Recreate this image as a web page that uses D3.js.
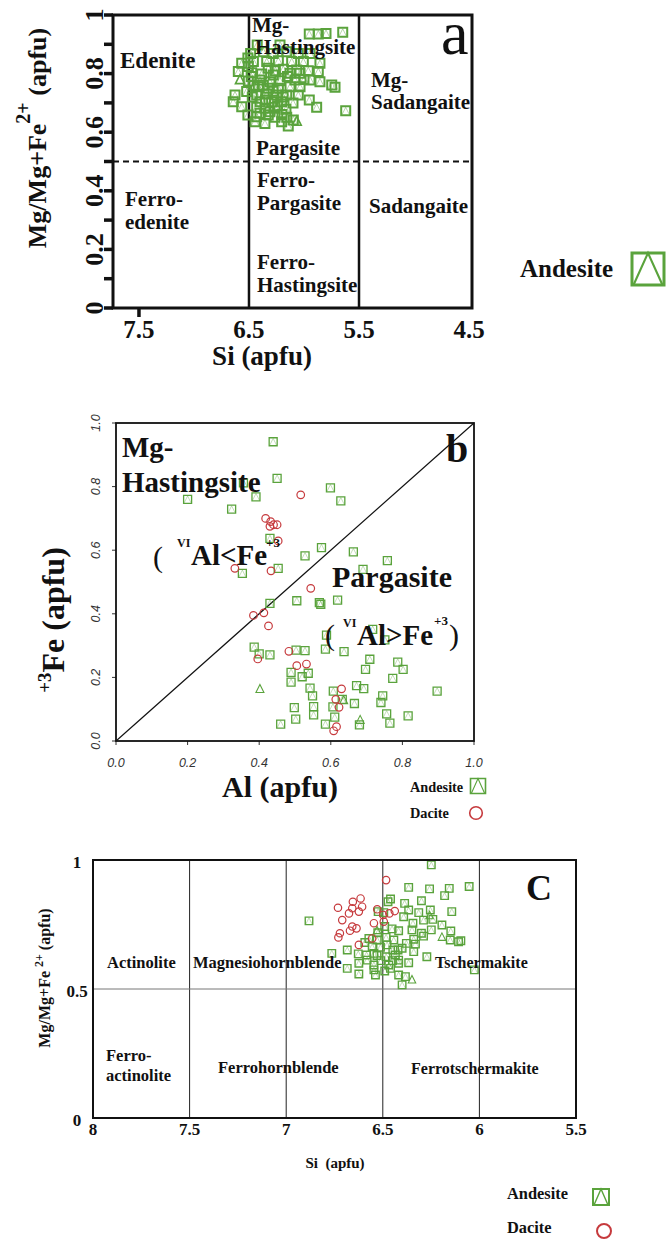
<!DOCTYPE html>
<html><head><meta charset="utf-8">
<script src="https://cdn.jsdelivr.net/npm/d3@7"></script>
<style>
body{margin:0;background:#fff}
svg{display:block}
text{font-family:"Liberation Serif","Times New Roman",serif;fill:#111}
</style>
</head><body>
<svg id="chart" width="670" height="1239"></svg>
<script>
// ---------------- DATA ----------------
// Panel a: Si (apfu) vs Mg/(Mg+Fe2+)
const aTicksX = [7.5, 6.5, 5.5, 4.5];
const aTicksY = [0, 0.2, 0.4, 0.6, 0.8, 1];
const aMinorY = [0.1, 0.3, 0.5, 0.7, 0.9];
const aDividersSi = [6.5, 5.5];
const aDashedMg = 0.5;
const aAndesiteSq = [
 [6.425,0.898],[6.218,0.898],[5.952,0.935],[5.87,0.935],[5.80,0.937],[5.648,0.941],
 [6.485,0.869],[6.37,0.875],[6.28,0.869],[6.157,0.875],[6.052,0.869],[5.945,0.869],
 [6.566,0.835],[6.46,0.841],[6.339,0.841],[6.233,0.844],[6.112,0.841],[6.006,0.841],[5.855,0.835],
 [6.506,0.824],[6.325,0.818],[6.188,0.815],[6.066,0.812],[5.961,0.81],
 [6.597,0.807],[6.475,0.803],[6.385,0.799],[6.279,0.795],[6.127,0.801],[6.036,0.801],[5.87,0.807],
 [6.506,0.775],[6.40,0.778],[6.309,0.772],[6.218,0.776],[6.082,0.778],[5.945,0.778],[5.855,0.772],[5.748,0.761],[5.718,0.753],
 [6.415,0.755],[6.325,0.75],[6.233,0.75],[6.127,0.755],[6.036,0.755],
 [6.627,0.727],[6.521,0.739],[6.43,0.727],[6.339,0.73],[6.248,0.727],[6.157,0.727],[6.052,0.727],
 [6.643,0.704],[6.40,0.704],[6.294,0.704],[6.203,0.704],[5.952,0.71],
 [6.43,0.685],[6.355,0.682],[6.264,0.685],[6.164,0.678],[5.885,0.685],[6.566,0.687],
 [6.43,0.653],[6.325,0.659],[6.264,0.651],[6.157,0.651],[6.097,0.642],[5.621,0.673],
 [6.445,0.636],[6.355,0.63],[6.143,0.621],[6.203,0.636],
 [6.51,0.853],[6.51,0.659],
 [6.37,0.76],[6.28,0.74],[6.19,0.72],[6.35,0.71],[6.24,0.69],[6.47,0.72],[6.31,0.67],[6.2,0.66],
 [6.46,0.76],[6.1,0.70],[6.0,0.78],[6.4,0.665],[6.48,0.79],[6.26,0.81],[6.15,0.79]
];
const aAndesiteTri = [[6.582,0.781],[6.066,0.639]];

// Panel b: Al (apfu) vs Fe3+ (apfu)
const bTicks = [0, 0.2, 0.4, 0.6, 0.8, 1.0];
const bAndesiteSq = [
 [0.43,0.433],[0.505,0.441],[0.568,0.435],[0.572,0.43],[0.619,0.443],[0.588,0.333],[0.717,0.351],[0.751,0.318],
 [0.386,0.295],[0.40,0.274],[0.43,0.271],[0.503,0.286],[0.528,0.284],[0.585,0.289],[0.637,0.281],
 [0.709,0.257],[0.787,0.248],[0.697,0.225],[0.802,0.225],[0.489,0.216],[0.537,0.213],[0.52,0.202],[0.773,0.197],[0.489,0.185],
 [0.542,0.166],[0.607,0.157],[0.672,0.174],[0.692,0.165],[0.897,0.157],[0.549,0.142],[0.632,0.131],[0.745,0.142],[0.666,0.118],[0.74,0.121],
 [0.498,0.105],[0.552,0.108],[0.606,0.107],[0.502,0.069],[0.552,0.082],[0.611,0.075],[0.756,0.085],[0.816,0.079],
 [0.46,0.053],[0.585,0.053],[0.68,0.051],[0.765,0.056],
 [0.439,0.941],[0.45,0.826],[0.391,0.768],[0.2,0.76],[0.356,0.812],[0.323,0.729],[0.43,0.637],[0.453,0.543],[0.353,0.527],[0.528,0.582],
 [0.599,0.796],[0.628,0.755],[0.574,0.608],[0.663,0.595],[0.758,0.567],[0.69,0.54]
];
const bAndesiteTri = [[0.402,0.165],[0.682,0.068],[0.636,0.13]];
const bDacite = [
 [0.544,0.48],[0.384,0.395],[0.413,0.403],[0.426,0.362],[0.483,0.282],[0.396,0.258],[0.505,0.237],[0.532,0.242],
 [0.63,0.164],[0.614,0.131],[0.623,0.106],[0.616,0.045],[0.608,0.032],[0.516,0.774],[0.418,0.70],[0.432,0.69],
 [0.44,0.68],[0.45,0.68],[0.43,0.675],[0.453,0.629],[0.332,0.543],[0.433,0.535]
];

// Panel c: Si (apfu) vs Mg/(Mg+Fe2+)
const cTicksX = [8, 7.5, 7, 6.5, 6, 5.5];
const cTicksY = [0, 0.5, 1];
const cDividersSi = [7.5, 7, 6.5, 6];
const cDividerMg = 0.5;
const cAndesiteSq = [
 [6.249,0.981],[6.366,0.894],[6.258,0.888],[6.156,0.890],[6.053,0.897],[6.18,0.862],[6.46,0.849],[6.473,0.838],
 [6.387,0.832],[6.30,0.842],[6.366,0.806],[6.314,0.796],[6.254,0.806],[6.143,0.80],[6.524,0.80],[6.495,0.796],
 [6.392,0.78],[6.344,0.755],[6.289,0.767],[6.241,0.77],[6.49,0.742],[6.452,0.733],[6.418,0.726],[6.349,0.729],
 [6.30,0.716],[6.249,0.729],[6.194,0.748],[6.148,0.725],[6.151,0.69],[6.108,0.683],[6.096,0.687],[6.289,0.705],
 [6.34,0.693],[6.378,0.677],[6.331,0.674],[6.40,0.658],[6.443,0.69],[6.483,0.70],[6.526,0.718],[6.529,0.69],
 [6.572,0.696],[6.593,0.68],[6.555,0.664],[6.512,0.662],[6.478,0.671],[6.448,0.651],[6.421,0.651],[6.684,0.651],
 [6.627,0.636],[6.584,0.632],[6.546,0.638],[6.483,0.625],[6.435,0.632],[6.418,0.612],[6.366,0.602],[6.34,0.645],
 [6.272,0.625],[6.764,0.638],[6.624,0.60],[6.581,0.612],[6.546,0.593],[6.469,0.593],[6.418,0.60],[6.684,0.58],
 [6.624,0.558],[6.538,0.554],[6.546,0.574],[6.46,0.58],[6.418,0.554],[6.383,0.548],[6.40,0.516],[6.026,0.574],
 [6.882,0.764],[6.51,0.61],[6.49,0.57],[6.53,0.63],[6.45,0.61]
];
const cAndesiteTri = [[6.258,0.787],[6.194,0.703],[6.349,0.538],[6.53,0.729]];
const cDacite = [
 [6.483,0.922],[6.732,0.815],[6.655,0.838],[6.615,0.851],[6.607,0.819],[6.658,0.813],[6.675,0.793],[6.624,0.80],
 [6.71,0.767],[6.658,0.742],[6.636,0.735],[6.67,0.726],[6.722,0.716],[6.73,0.70],[6.529,0.809],[6.498,0.787],
 [6.466,0.793],[6.438,0.802],[6.546,0.755],[6.495,0.761],[6.555,0.696],[6.624,0.671]
];

// ---------------- DRAWING ----------------
const GREEN = "#5aa33c", RED = "#c63a3d";
const svg = d3.select("#chart");

function squares(g, pts, x, y, s, sw, triOp) {
  g.append("g").selectAll("path").data(pts).join("path")
    .attr("d", d => { const cx = x(d[0]), cy = y(d[1]), h = s / 2; return `M${cx-h},${cy-h}h${s}v${s}h${-s}Z`; })
    .attr("fill", "none").attr("stroke", GREEN).attr("stroke-width", sw);
  g.append("g").selectAll("path").data(pts).join("path")
    .attr("d", d => { const cx = x(d[0]), cy = y(d[1]), h = s / 2 - sw / 2; return `M${cx-h},${cy+h}L${cx},${cy-h}L${cx+h},${cy+h}`; })
    .attr("fill", "none").attr("stroke", GREEN).attr("stroke-width", 0.8).attr("opacity", triOp);
}
function triangles(g, pts, x, y, s, sw) {
  g.append("g").selectAll("path").data(pts).join("path")
    .attr("d", d => { const cx = x(d[0]), cy = y(d[1]), h = s / 2; return `M${cx-h},${cy+h}L${cx},${cy-h}L${cx+h},${cy+h}Z`; })
    .attr("fill", "none").attr("stroke", GREEN).attr("stroke-width", sw);
}
function circles(g, pts, x, y, r, sw) {
  g.append("g").selectAll("circle").data(pts).join("circle")
    .attr("cx", d => x(d[0])).attr("cy", d => y(d[1])).attr("r", r)
    .attr("fill", "none").attr("stroke", RED).attr("stroke-width", sw);
}
function legendSquare(g, cx, cy, s, sw) {
  const h = s / 2;
  g.append("path").attr("d", `M${cx-h},${cy-h}h${s}v${s}h${-s}Z`).attr("fill", "none").attr("stroke", GREEN).attr("stroke-width", sw);
  g.append("path").attr("d", `M${cx-h+sw/2},${cy+h}L${cx},${cy-h}L${cx+h-sw/2},${cy+h}`).attr("fill", "none").attr("stroke", GREEN).attr("stroke-width", sw*0.7);
}
function txt(g, x, y, s, size, opts = {}) {
  const t = g.append("text").attr("x", x).attr("y", y).attr("font-size", size)
    .attr("font-weight", opts.weight || "bold").text(s);
  if (opts.anchor) t.attr("text-anchor", opts.anchor);
  if (opts.style) t.attr("font-style", opts.style);
  if (opts.family) t.style("font-family", opts.family);
  if (opts.fill) t.style("fill", opts.fill);
  return t;
}
function composite(g, parts) {
  const t = g.append("text");
  parts.forEach(p => t.append("tspan").attr("x", p[0]).attr("y", p[1]).attr("font-size", p[3])
    .attr("font-weight", p[4] || "bold").text(p[2]));
  return t;
}

// ===== Panel a =====
(function () {
  const g = svg.append("g");
  const x = d3.scaleLinear().domain([7.736, 4.473]).range([113, 472]);
  const y = d3.scaleLinear().domain([0, 1]).range([308, 15]);
  const [x0, x1] = x.range(), [y0, y1] = y.range();

  g.append("g").selectAll("line").data(aTicksY.concat(aMinorY)).join("line")
    .attr("x1", x0 - 9).attr("x2", x0).attr("y1", d => y(d)).attr("y2", d => y(d))
    .attr("stroke", "#111").attr("stroke-width", 3.5);
  g.append("line").attr("x1", x(aTicksX[0])).attr("x2", x(aTicksX[0]))
    .attr("y1", y0).attr("y2", y0 + 9).attr("stroke", "#111").attr("stroke-width", 3.5);

  g.append("g").selectAll("line").data(aDividersSi).join("line")
    .attr("x1", d => x(d)).attr("x2", d => x(d)).attr("y1", y0).attr("y2", y1)
    .attr("stroke", "#111").attr("stroke-width", 2.5);
  g.append("line").attr("x1", x0).attr("x2", x1).attr("y1", y(aDashedMg)).attr("y2", y(aDashedMg))
    .attr("stroke", "#111").attr("stroke-width", 2).attr("stroke-dasharray", "6,4");

  squares(g, aAndesiteSq, x, y, 9, 2, 0.55);
  triangles(g, aAndesiteTri, x, y, 9, 1.6);

  g.append("rect").attr("x", x0).attr("y", y1).attr("width", x1 - x0).attr("height", y0 - y1)
    .attr("fill", "none").attr("stroke", "#111").attr("stroke-width", 3);

  aTicksX.forEach(v => txt(g, x(v), 338, v.toFixed(1), 25, { anchor: "middle" }));
  aTicksY.forEach(v => {
    g.append("text").attr("transform", `translate(103,${y(v)}) rotate(-90)`)
      .attr("text-anchor", "middle").attr("font-size", 26).attr("font-weight", "bold")
      .text(String(v));
  });
  txt(g, 262, 365, "Si (apfu)", 27, { anchor: "middle" });
  const yl = g.append("text").attr("transform", "translate(46,138) rotate(-90)")
    .attr("text-anchor", "middle").attr("font-size", 26).attr("font-weight", "bold");
  yl.append("tspan").text("Mg/Mg+Fe");
  yl.append("tspan").attr("dy", -16).attr("font-size", 20).text("2+");
  yl.append("tspan").attr("dy", 16).text(" (apfu)");

  txt(g, 120, 68, "Edenite", 23);
  txt(g, 252, 32, "Mg-", 21);
  txt(g, 255, 54, "Hastingsite", 21);
  txt(g, 441, 54, "a", 62, { weight: "normal" });
  txt(g, 371, 87, "Mg-", 21);
  txt(g, 371, 109, "Sadangaite", 21);
  txt(g, 256, 155, "Pargasite", 21);
  txt(g, 257, 187, "Ferro-", 21);
  txt(g, 257, 210, "Pargasite", 21);
  txt(g, 369, 213, "Sadangaite", 21);
  txt(g, 125, 206, "Ferro-", 21);
  txt(g, 125, 229, "edenite", 21);
  txt(g, 257, 269, "Ferro-", 21);
  txt(g, 257, 292, "Hastingsite", 21);

  txt(g, 520, 277, "Andesite", 25);
  legendSquare(g, 648, 269, 32, 3);
})();

// ===== Panel b =====
(function () {
  const g = svg.append("g");
  const x = d3.scaleLinear().domain([0, 1]).range([116, 474]);
  const y = d3.scaleLinear().domain([0, 1]).range([741, 423]);
  const [x0, x1] = x.range(), [y0, y1] = y.range();

  g.append("g").selectAll("line").data(bTicks).join("line")
    .attr("x1", d => x(d)).attr("x2", d => x(d)).attr("y1", y0).attr("y2", y0 + 4)
    .attr("stroke", "#333").attr("stroke-width", 1);
  g.append("g").selectAll("line").data(bTicks).join("line")
    .attr("x1", x0 - 4).attr("x2", x0).attr("y1", d => y(d)).attr("y2", d => y(d))
    .attr("stroke", "#333").attr("stroke-width", 1);
  bTicks.forEach(v => txt(g, x(v), 767, v.toFixed(1), 12.5, { anchor: "middle", weight: "normal", style: "italic", family: "'Liberation Sans',Arial,sans-serif", fill: "#333" }));
  bTicks.forEach(v => {
    g.append("text").attr("transform", `translate(100,${y(v)}) rotate(-90)`)
      .attr("text-anchor", "middle").attr("font-size", 12.5).attr("font-style", "italic")
      .style("font-family", "'Liberation Sans',Arial,sans-serif").style("fill", "#333").text(v.toFixed(1));
  });

  g.append("line").attr("x1", x(0)).attr("y1", y(0)).attr("x2", x(1)).attr("y2", y(1))
    .attr("stroke", "#111").attr("stroke-width", 1.2);

  squares(g, bAndesiteSq, x, y, 8, 1.3, 0.45);
  triangles(g, bAndesiteTri, x, y, 8, 1.1);
  circles(g, bDacite, x, y, 3.8, 1.2);

  g.append("rect").attr("x", x0).attr("y", y1).attr("width", x1 - x0).attr("height", y0 - y1)
    .attr("fill", "none").attr("stroke", "#111").attr("stroke-width", 1.8);

  txt(g, 280, 797, "Al (apfu)", 30, { anchor: "middle" });
  const yl = g.append("text").attr("transform", "translate(64,620) rotate(-90)")
    .attr("text-anchor", "middle").attr("font-size", 32).attr("font-weight", "bold");
  yl.append("tspan").attr("font-size", 19).attr("dy", -13).text("+3");
  yl.append("tspan").attr("dy", 13).text("Fe (apfu)");

  txt(g, 122, 457, "Mg-", 29);
  txt(g, 122, 492, "Hastingsite", 29);
  txt(g, 446, 462, "b", 40);
  composite(g, [[153, 567, "(", 30, "normal"], [177, 547, "VI", 12], [191, 565, "Al<Fe", 29], [266, 547, "+3", 13]]);
  txt(g, 332, 587, "Pargasite", 30);
  composite(g, [[325, 645, "(", 30, "normal"], [343, 627, "VI", 12], [357, 645, "Al>Fe", 29], [434, 625, "+3", 13], [449, 645, ")", 30, "normal"]]);

  txt(g, 410, 792, "Andesite", 14.3);
  legendSquare(g, 478, 786, 15, 1.6);
  txt(g, 410, 818, "Dacite", 14.3);
  g.append("circle").attr("cx", 476).attr("cy", 813).attr("r", 6.3).attr("fill", "none").attr("stroke", RED).attr("stroke-width", 1.6);
})();

// ===== Panel c =====
(function () {
  const g = svg.append("g");
  const x = d3.scaleLinear().domain([8, 5.5]).range([93, 576]);
  const y = d3.scaleLinear().domain([0, 1]).range([1118, 860]);
  const [x0, x1] = x.range(), [y0, y1] = y.range();

  g.append("g").selectAll("line").data(cDividersSi).join("line")
    .attr("x1", d => x(d)).attr("x2", d => x(d)).attr("y1", y0).attr("y2", y1)
    .attr("stroke", "#222").attr("stroke-width", 1);
  g.append("line").attr("x1", x0).attr("x2", x1).attr("y1", y(cDividerMg)).attr("y2", y(cDividerMg))
    .attr("stroke", "#777").attr("stroke-width", 1);

  squares(g, cAndesiteSq, x, y, 7.5, 1.4, 0.45);
  triangles(g, cAndesiteTri, x, y, 7.5, 1.1);
  circles(g, cDacite, x, y, 3.7, 1.2);

  g.append("rect").attr("x", x0).attr("y", y1).attr("width", x1 - x0).attr("height", y0 - y1)
    .attr("fill", "none").attr("stroke", "#111").attr("stroke-width", 2);

  cTicksX.forEach(v => txt(g, x(v), 1135, String(v), 17, { anchor: "middle" }));
  cTicksY.forEach(v => txt(g, 77, y(v) + 8, String(v), 17, { anchor: "middle" }));
  txt(g, 335, 1168, "Si  (apfu)", 15, { anchor: "middle" }).style("white-space", "pre");

  const yl = g.append("text").attr("transform", "translate(50,978) rotate(-90)")
    .attr("text-anchor", "middle").attr("font-size", 16).attr("font-weight", "bold").style("white-space", "pre");
  yl.append("tspan").text("Mg/Mg+Fe ");
  yl.append("tspan").attr("dy", -7).attr("font-size", 12).text("2+");
  yl.append("tspan").attr("dy", 7).text(" (apfu)");

  txt(g, 107, 968, "Actinolite", 16.5);
  txt(g, 193, 968, "Magnesiohornblende", 16.5);
  txt(g, 435, 968, "Tschermakite", 16);
  txt(g, 526, 900, "C", 36);
  txt(g, 106, 1061, "Ferro-", 16.5);
  txt(g, 106, 1081, "actinolite", 16.5);
  txt(g, 218, 1073, "Ferrohornblende", 16.5);
  txt(g, 411, 1074, "Ferrotschermakite", 16);

  txt(g, 507, 1199, "Andesite", 16.4);
  legendSquare(g, 601, 1197, 16, 2);
  txt(g, 507, 1233, "Dacite", 16.4);
  g.append("circle").attr("cx", 604).attr("cy", 1231).attr("r", 7).attr("fill", "none").attr("stroke", RED).attr("stroke-width", 2);
})();
</script>
</body></html>
